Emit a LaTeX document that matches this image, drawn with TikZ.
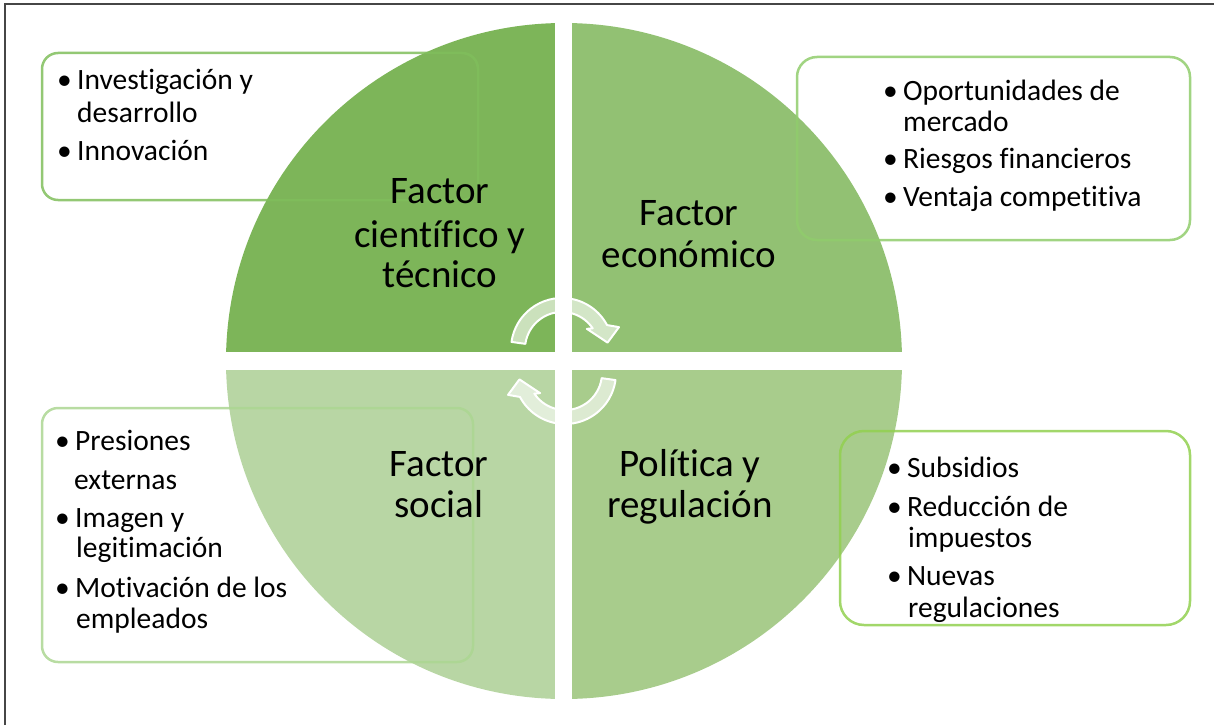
\documentclass[tikz,border=0pt]{standalone}
\usepackage{fontspec}
\setmainfont{Carlito}[Ligatures=NoCommon]
\newcommand{\bul}{\makebox[20pt][l]{\textbullet}}
\tikzset{
  itembox/.style={rounded corners=16pt, line width=2.5pt, draw opacity=0.85},
  item/.style={anchor=base west, inner sep=0pt, font=\fontsize{29.5}{33}\selectfont},
  factor/.style={anchor=base, inner sep=0pt, font=\fontsize{39}{42}\selectfont},
  cycarrow/.style={fill=white, fill opacity=0.6, draw=white, line width=2pt, line join=round}
}
\begin{document}
\begin{tikzpicture}[x=1pt,y=-1pt]
%Define all colors here.

\definecolor{qtlfill}{RGB}{125,181,89}
\definecolor{qtrfill}{RGB}{146,193,115}
\definecolor{qbrfill}{RGB}{168,204,140}
\definecolor{qblfill}{RGB}{184,214,164}
\definecolor{tlline}{RGB}{128,190,92}
\definecolor{trline}{RGB}{144,204,108}
\definecolor{blline}{RGB}{172,214,146}
\definecolor{brline}{RGB}{146,208,80}
\definecolor{framecol}{RGB}{70,70,70}

\useasboundingbox (0,0) rectangle (1214,725);
\draw[framecol, line width=2pt] (5,725) -- (5,4) -- (1214,4);

% four parts of the circle
\fill[qtlfill] (564,361) -- (226,361) arc[start angle=180, end angle=270, radius=338] -- cycle;
\fill[qtrfill] (564,361) -- (564,23) arc[start angle=270, end angle=360, radius=338] -- cycle;
\fill[qbrfill] (564,361) -- (902,361) arc[start angle=0, end angle=90, radius=338] -- cycle;
\fill[qblfill] (564,361) -- (564,699) arc[start angle=90, end angle=180, radius=338] -- cycle;
\fill[white] (555,15) rectangle (572,710);
\fill[white] (215,352) rectangle (912,370);

% the two turning arrows
\begin{scope}[shift={(562,349)}]
\filldraw[cycarrow] (188:51) arc[start angle=188, end angle=332, radius=51] -- (339:61) -- (352:46) -- (321:32) -- (326:37) arc[start angle=326, end angle=188, radius=37] -- cycle;
\end{scope}
\begin{scope}[shift={(565,373)}, rotate=180]
\filldraw[cycarrow] (188:51) arc[start angle=188, end angle=332, radius=51] -- (339:61) -- (352:46) -- (321:32) -- (326:37) arc[start angle=326, end angle=188, radius=37] -- cycle;
\end{scope}

% boxes
\draw[itembox, draw=tlline] (42,53) rectangle (478,200);
\draw[itembox, draw=trline, rounded corners=20pt] (797,57) rectangle (1190,240);
\draw[itembox, draw=blline] (42,408) rectangle (473,662);
\draw[itembox, draw=brline, rounded corners=24pt] (840,431) rectangle (1190,625);

% factor names
\node(ct1) at (440,203) [factor] {Factor};
\node(ct2) at (440,247) [factor] {científico y};
\node(ct3) at (440,287) [factor] {técnico};
\node(ec1) at (689,225) [factor] {Factor};
\node(ec2) at (689,267) [factor] {económico};
\node(so1) at (439,476) [factor] {Factor};
\node(so2) at (439,517) [factor] {social};
\node(po1) at (690,476) [factor] {Política y};
\node(po2) at (690,517) [factor] {regulación};

% bullet lists
\node(tl1) at (57,89) [item] {\bul Investigación y};
\node(tl2) at (77,122) [item] {desarrollo};
\node(tl3) at (57,160) [item] {\bul Innovación};

\node(tr1) at (883,100) [item] {\bul Oportunidades de};
\node(tr2) at (903,131) [item] {mercado};
\node(tr3) at (883,168) [item] {\bul Riesgos financieros};
\node(tr4) at (883,206) [item] {\bul Ventaja competitiva};

\node(bl1) at (55,450) [item] {\bul Presiones};
\node(bl2) at (74,489) [item] {externas};
\node(bl3) at (55,527) [item] {\bul Imagen y};
\node(bl4) at (76,557) [item] {legitimación};
\node(bl5) at (55,597) [item] {\bul Motivación de los};
\node(bl6) at (76,628) [item] {empleados};

\node(br1) at (887,477) [item] {\bul Subsidios};
\node(br2) at (887,516) [item] {\bul Reducción de};
\node(br3) at (908,547) [item] {impuestos};
\node(br4) at (887,585) [item] {\bul Nuevas};
\node(br5) at (908,617) [item] {regulaciones};
\end{tikzpicture}
\end{document}
